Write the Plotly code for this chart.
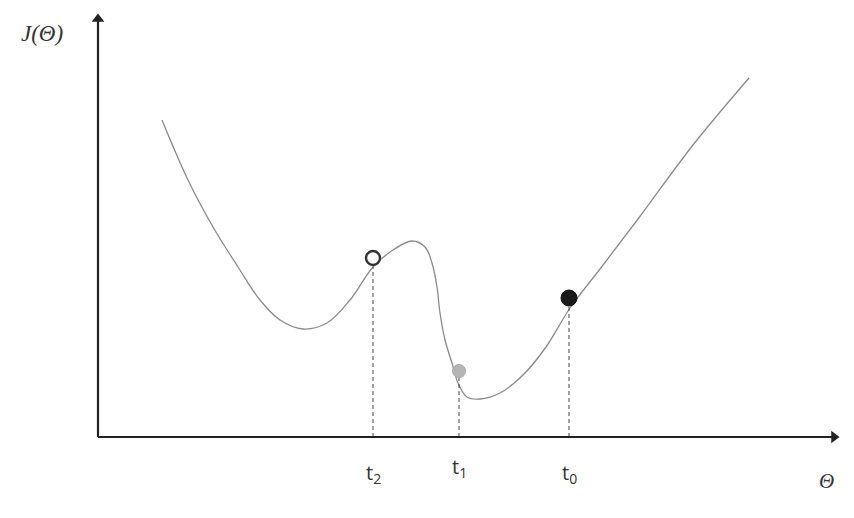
import plotly.graph_objects as go

# Curve J(theta) (axis units: origin at the axis crossing)
theta = [0.64, 0.90, 1.15, 1.40, 1.62, 1.82, 2.05, 2.29, 2.52, 2.75, 2.95, 3.14,
         3.27, 3.34, 3.39, 3.42, 3.47, 3.54, 3.60, 3.69, 3.82, 4.02, 4.25, 4.48,
         4.72, 5.02, 5.40, 5.95, 6.51]
cost = [3.17, 2.57, 2.10, 1.70, 1.37, 1.17, 1.08, 1.14, 1.37, 1.70, 1.87, 1.96,
        1.90, 1.74, 1.50, 1.24, 0.97, 0.74, 0.54, 0.40, 0.38, 0.44, 0.62, 0.90,
        1.29, 1.68, 2.18, 2.92, 3.59]

# Iterates t2, t1, t0
iter_labels = ["t<sub>2</sub>", "t<sub>1</sub>", "t<sub>0</sub>"]
iter_theta = [2.75, 3.61, 4.71]
iter_curve = [1.70, 0.59, 1.31]      # where the dashed drop lines start
marker_y = [1.79, 0.66, 1.39]        # marker centres (sitting on the curve)
label_y = [-0.36, -0.30, -0.36]

axis_x_end = 7.36
axis_y_end = 4.18

fig = go.Figure()

fig.add_trace(go.Scatter(x=theta, y=cost, mode="lines",
                         line=dict(color="#8a8a8a", width=1.3, shape="spline", smoothing=1.0),
                         hoverinfo="skip", showlegend=False))

# dashed drop lines
for xt, yt in zip(iter_theta, iter_curve):
    fig.add_trace(go.Scatter(x=[xt, xt], y=[0, yt], mode="lines",
                             line=dict(color="#444444", width=1, dash="4px,3px"),
                             hoverinfo="skip", showlegend=False))

# markers
fig.add_trace(go.Scatter(x=[iter_theta[0]], y=[marker_y[0]], mode="markers",
                         marker=dict(size=14, color="white", line=dict(color="#333333", width=2.4)),
                         showlegend=False, hoverinfo="skip"))
fig.add_trace(go.Scatter(x=[iter_theta[1]], y=[marker_y[1]], mode="markers",
                         marker=dict(size=13, color="#b5b5b5", line=dict(color="#a8a8a8", width=1)),
                         showlegend=False, hoverinfo="skip"))
fig.add_trace(go.Scatter(x=[iter_theta[2]], y=[marker_y[2]], mode="markers",
                         marker=dict(size=16, color="#1a1a1a", line=dict(color="#111111", width=1)),
                         showlegend=False, hoverinfo="skip"))

# axes lines
fig.add_trace(go.Scatter(x=[0, 0], y=[0, axis_y_end], mode="lines",
                         line=dict(color="#222222", width=2.2), hoverinfo="skip", showlegend=False))
fig.add_trace(go.Scatter(x=[0, axis_x_end], y=[0, 0], mode="lines",
                         line=dict(color="#222222", width=2.2), hoverinfo="skip", showlegend=False))
# arrowheads
fig.add_trace(go.Scatter(x=[0], y=[axis_y_end], mode="markers",
                         marker=dict(symbol="triangle-up", size=11, color="#222222"),
                         hoverinfo="skip", showlegend=False))
fig.add_trace(go.Scatter(x=[axis_x_end], y=[0], mode="markers",
                         marker=dict(symbol="triangle-right", size=11, color="#222222"),
                         hoverinfo="skip", showlegend=False))

for lab, xt, yl in zip(iter_labels, iter_theta, label_y):
    fig.add_annotation(x=xt, y=yl, text=lab, showarrow=False,
                       font=dict(family="Open Sans", size=20, color="#333333"))

fig.add_annotation(x=7.28, y=-0.44, text="<i>Θ</i>", showarrow=False,
                   font=dict(family="Liberation Serif", size=21, color="#333333"))
fig.add_annotation(x=-0.56, y=4.04, text="<i>J(Θ)</i>", showarrow=False,
                   font=dict(family="Liberation Serif", size=23, color="#333333"))

fig.update_layout(width=854, height=518, margin=dict(l=0, r=0, t=0, b=0),
                  paper_bgcolor="white", plot_bgcolor="white",
                  xaxis=dict(range=[-0.98, 7.56], visible=False, fixedrange=True),
                  yaxis=dict(range=[-0.81, 4.37], visible=False, fixedrange=True))

fig.write_html("out.html")
